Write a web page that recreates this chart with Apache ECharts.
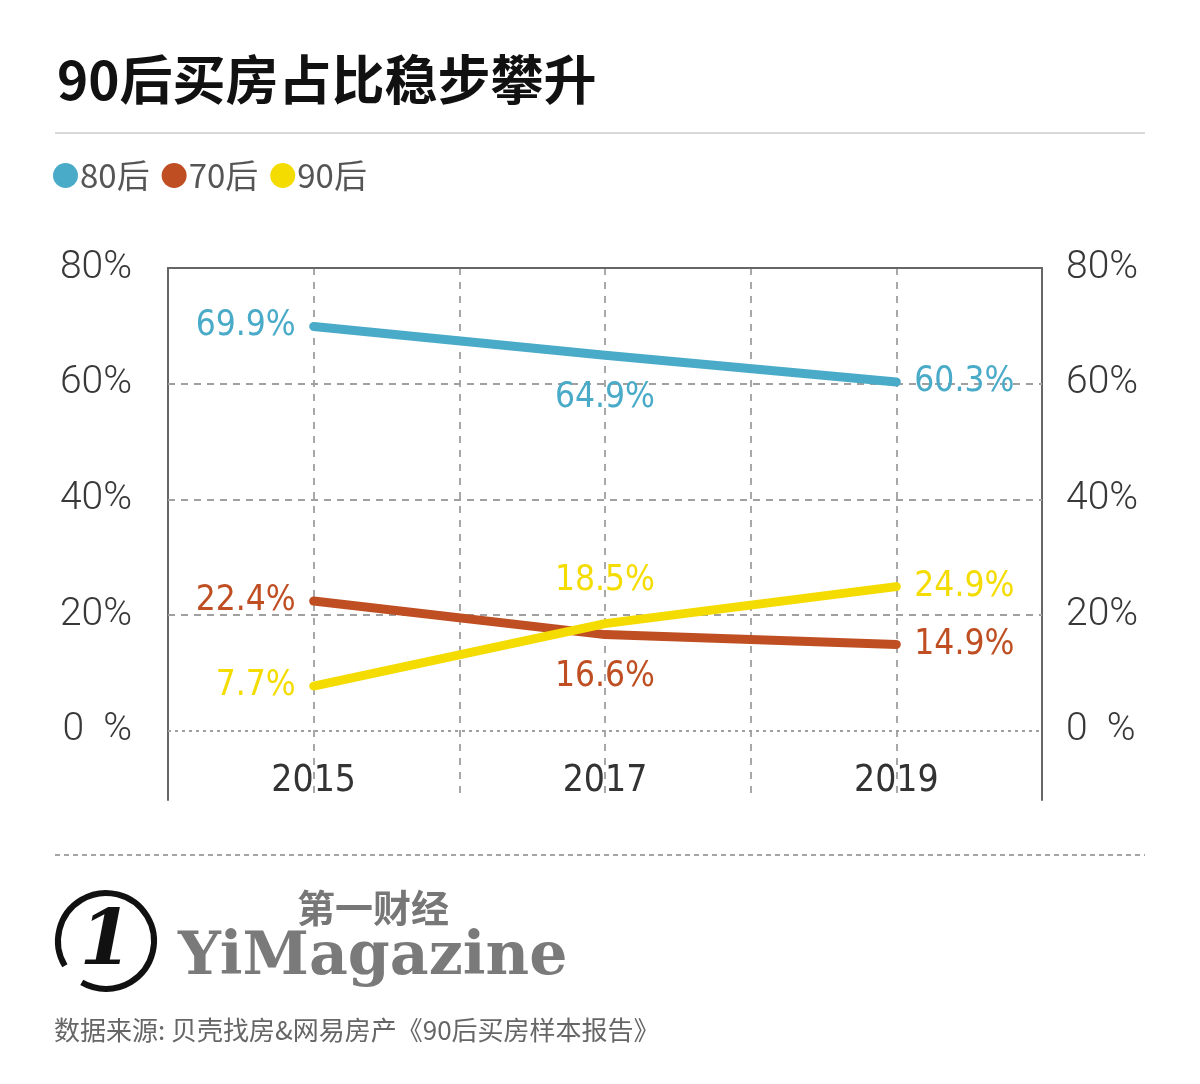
<!DOCTYPE html>
<html>
<head>
<meta charset="utf-8">
<script src="https://cdn.jsdelivr.net/npm/echarts@6/dist/echarts.min.js"></script>
<style>html,body{margin:0;padding:0;background:#fff}#main{width:1200px;height:1084px}</style>
</head>
<body>
<div id="main"></div>
<script>
// ---- data ----
const years = [2015, 2017, 2019];
const yearTickLabels = ['2015', '2017', '2019'];
const seriesNames = ['80后', '70后', '90后'];
const values80 = [69.9, 64.9, 60.3];
const values70 = [22.4, 16.6, 14.9];
const values90 = [7.7, 18.5, 24.9];
const yTickValues = [0, 20, 40, 60, 80];
const gridLineValues = [0, 20, 40, 60];

// ---- styling ----
const colors = ['#4aabc9', '#bf4f22', '#f5dc00'];
const labelPlacement = [
  ['left', 'bottom', 'right'],
  ['left', 'bottom', 'right'],
  ['left', 'top', 'right']
];
const labelFont = '"DejaVu Sans Condensed", sans-serif';

const chart = echarts.init(document.getElementById('main'), null, {renderer: 'canvas'});

function mkSeries(idx, vals) {
  return {
    name: seriesNames[idx],
    type: 'line',
    showSymbol: true,
    showAllSymbol: true,
    symbol: 'circle',
    symbolSize: 2,
    color: colors[idx],
    itemStyle: {color: colors[idx]},
    lineStyle: {width: 9, color: colors[idx], cap: 'round', join: 'round'},
    z: 5,
    label: {
      show: true,
      color: colors[idx],
      fontFamily: labelFont,
      fontSize: 35,
      distance: 17,
      formatter: p => p.value[1].toFixed(1) + '%'
    },
    data: years.map((y, i) => {
      const pos = labelPlacement[idx][i];
      const dist = (pos === 'top' || pos === 'bottom') ? 24 : 17;
      return {value: [y, vals[i]], label: {position: pos, distance: dist}};
    }),
    emphasis: {disabled: true}
  };
}

const s80 = mkSeries(0, values80);
const s70 = mkSeries(1, values70);
const s90 = mkSeries(2, values90);
s80.markLine = {
  silent: true,
  symbol: 'none',
  label: {show: false},
  z: 1,
  data: gridLineValues.map(v => ({
    yAxis: v,
    lineStyle: {color: '#a0a0a0', width: 2, type: v === 0 ? [3, 4] : [7, 6]}
  }))
};

const yLabelFmt = v => yTickValues.indexOf(v) >= 0 ? (v === 0 ? '0  %' : v + '%') : '';
const yLabelStyle = {
  color: '#383838',
  fontFamily: 'Roboto, "DejaVu Sans", sans-serif',
  fontWeight: 300,
  fontSize: 39,
  formatter: yLabelFmt
};

const option = {
  backgroundColor: '#fff',
  animation: false,
  title: {
    text: '90后买房占比稳步攀升',
    left: 52,
    top: 48,
    textStyle: {
      color: '#111',
      fontSize: 53,
      fontWeight: 'bold',
      fontFamily: '"Noto Sans CJK SC", sans-serif'
    }
  },
  legend: {
    left: 53,
    top: 159,
    padding: 0,
    icon: 'circle',
    itemWidth: 25,
    itemHeight: 25,
    itemGap: 12,
    data: seriesNames,
    textStyle: {
      color: '#555',
      fontSize: 33,
      padding: [0, 0, 0, -3],
      fontFamily: '"Noto Sans CJK SC", sans-serif'
    }
  },
  grid: {left: 168, right: 158, top: 268, bottom: 284, containLabel: false},
  xAxis: [{
    type: 'value',
    min: 2014,
    max: 2020,
    interval: 1,
    position: 'bottom',
    axisLine: {show: false, onZero: false},
    axisTick: {show: false},
    axisLabel: {
      inside: true,
      margin: 0,
      color: '#333',
      fontSize: 37,
      fontFamily: '"DejaVu Sans Condensed", sans-serif',
      formatter: v => yearTickLabels.indexOf(String(v)) >= 0 ? String(v) : ''
    },
    splitLine: {show: true, lineStyle: {color: '#a8a8a8', width: 2, type: [7, 7]}}
  }, {
    type: 'value',
    min: 2014,
    max: 2020,
    position: 'top',
    axisLine: {show: true, onZero: false, lineStyle: {color: '#666', width: 2}},
    axisTick: {show: false},
    axisLabel: {show: false},
    splitLine: {show: false}
  }],
  yAxis: [{
    type: 'value',
    min: -12,
    max: 80,
    interval: 4,
    position: 'left',
    axisLine: {show: true, onZero: false, lineStyle: {color: '#666', width: 2}},
    axisTick: {show: false},
    splitLine: {show: false},
    axisLabel: Object.assign({margin: 36}, yLabelStyle)
  }, {
    type: 'value',
    min: -12,
    max: 80,
    interval: 4,
    position: 'right',
    axisLine: {show: true, onZero: false, lineStyle: {color: '#666', width: 2}},
    axisTick: {show: false},
    splitLine: {show: false},
    axisLabel: Object.assign({margin: 24}, yLabelStyle)
  }],
  series: [s80, s70, s90],
  graphic: [
    {type: 'line', shape: {x1: 55, y1: 133, x2: 1145, y2: 133}, style: {stroke: '#cccccc', lineWidth: 1.5}},
    {type: 'line', shape: {x1: 55, y1: 855, x2: 1145, y2: 855}, style: {stroke: '#888', lineWidth: 1.5, lineDash: [5, 4]}},
    {type: 'arc', shape: {cx: 106, cy: 941, r: 48, startAngle: 2.6, endAngle: 2.2 + Math.PI * 2 - 0.1}, style: {fill: 'none', stroke: '#111', lineWidth: 6}},
    {type: 'text', x: 106, y: 944, style: {text: '1', fill: '#111', font: 'italic bold 76px "DejaVu Serif", serif', align: 'center', verticalAlign: 'middle'}},
    {type: 'text', x: 297, y: 908, style: {text: '第一财经', fill: '#777', font: 'bold 38px "Noto Sans CJK SC", sans-serif', verticalAlign: 'middle'}},
    {type: 'text', x: 178, y: 958, style: {text: 'YiMagazine', fill: '#7a7a7a', font: 'bold 60px "DejaVu Serif", serif', verticalAlign: 'middle'}},
    {type: 'text', x: 54, y: 1030, style: {text: '数据来源: 贝壳找房&网易房产《90后买房样本报告》', fill: '#666', font: '26px "Noto Sans CJK SC", sans-serif', verticalAlign: 'middle'}}
  ]
};

chart.setOption(option);
</script>
</body>
</html>
